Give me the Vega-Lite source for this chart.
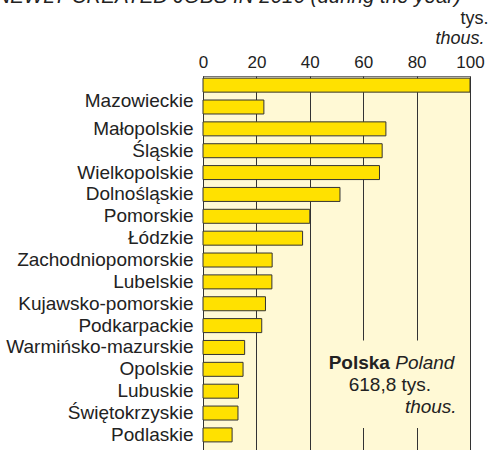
{
  "$schema": "https://vega.github.io/schema/vega-lite/v6.json",
  "width": 267,
  "height": 376,
  "autosize": {"type": "none"},
  "padding": {"left": 203, "top": 76, "right": 21, "bottom": 0},
  "background": "white",
  "title": {
    "text": "NEWLY CREATED JOBS IN 2016 (during the year)",
    "fontStyle": "italic",
    "fontWeight": "normal",
    "fontSize": 20.5,
    "font": "Liberation Sans",
    "color": "#222222",
    "anchor": "end",
    "frame": "group",
    "dx": -9,
    "baseline": "alphabetic",
    "offset": -14
  },
  "config": {
    "font": "Liberation Sans",
    "view": {"fill": "#FFF9D5", "stroke": "#777777"}
  },
  "datasets": {
    "regions": [
      {"region": "Mazowieckie A", "value": 100.7},
      {"region": "Mazowieckie B", "value": 22.8},
      {"region": "Małopolskie", "value": 68.5},
      {"region": "Śląskie", "value": 67.1},
      {"region": "Wielkopolskie", "value": 66.1},
      {"region": "Dolnośląskie", "value": 51.3},
      {"region": "Pomorskie", "value": 40.0},
      {"region": "Łódzkie", "value": 37.3},
      {"region": "Zachodniopomorskie", "value": 25.9},
      {"region": "Lubelskie", "value": 25.8},
      {"region": "Kujawsko-pomorskie", "value": 23.4},
      {"region": "Podkarpackie", "value": 22.0},
      {"region": "Warmińsko-mazurskie", "value": 15.6},
      {"region": "Opolskie", "value": 15.0},
      {"region": "Lubuskie", "value": 13.3},
      {"region": "Świętokrzyskie", "value": 13.1},
      {"region": "Podlaskie", "value": 10.9}
    ]
  },
  "layer": [
    {
      "data": {"name": "regions"},
      "mark": {"type": "bar", "fill": "#FFE100", "stroke": "#333333", "strokeWidth": 1},
      "encoding": {
        "x": {
          "field": "value",
          "type": "quantitative",
          "scale": {"domain": [0, 100], "clamp": true, "nice": false},
          "axis": {
            "orient": "top",
            "values": [0, 20, 40, 60, 80, 100],
            "labelFontSize": 17,
            "labelColor": "#222222",
            "labelFlush": false,
            "labelOverlap": false,
            "labelPadding": 5,
            "ticks": false,
            "domain": false,
            "grid": true,
            "gridColor": "#333333",
            "gridOpacity": 1,
            "gridWidth": 1,
            "title": "thous.",
            "titleFontStyle": "italic",
            "titleFontWeight": "normal",
            "titleFontSize": 18,
            "titleColor": "#222222",
            "titleX": 281,
            "titleY": -38,
            "titleAlign": "right",
            "titleBaseline": "middle"
          }
        },
        "y": {
          "field": "region",
          "type": "nominal",
          "sort": null,
          "scale": {"paddingInner": 0.36, "paddingOuter": 0.28, "align": 0.175},
          "axis": {
            "labelExpr": "datum.value === 'Mazowieckie A' ? '' : (datum.value === 'Mazowieckie B' ? 'Mazowieckie' : datum.value)",
            "labelOffset": {"condition": {"test": "datum.value === 'Mazowieckie B'", "value": -6}, "value": 0},
            "labelFontSize": 19,
            "labelColor": "#222222",
            "labelPadding": 10,
            "labelLimit": 300,
            "ticks": false,
            "domain": true,
            "domainColor": "#333333",
            "grid": false,
            "title": "tys.",
            "titleAngle": 0,
            "titleFontWeight": "normal",
            "titleFontSize": 18,
            "titleColor": "#222222",
            "titleX": 285,
            "titleY": -58,
            "titleAlign": "right",
            "titleBaseline": "middle"
          }
        }
      }
    },
    {
      "data": {"values": [{}]},
      "mark": {"type": "rect", "fill": "#FFF9D5"},
      "encoding": {
        "x": {"datum": 41},
        "x2": {"datum": 99.6},
        "y": {"datum": "Warmińsko-mazurskie", "bandPosition": 0},
        "y2": {"datum": "Podlaskie", "bandPosition": 0}
      }
    },
    {
      "data": {"values": [{"t": "Polska"}]},
      "mark": {"type": "text", "align": "right", "baseline": "alphabetic", "fontSize": 19, "fontWeight": "bold", "color": "#222222"},
      "encoding": {
        "x": {"datum": 70},
        "y": {"datum": "Opolskie"},
        "text": {"field": "t"}
      }
    },
    {
      "data": {"values": [{"t": "Poland"}]},
      "mark": {"type": "text", "align": "left", "baseline": "alphabetic", "fontSize": 19, "fontStyle": "italic", "color": "#222222"},
      "encoding": {
        "x": {"datum": 72},
        "y": {"datum": "Opolskie"},
        "text": {"field": "t"}
      }
    },
    {
      "data": {"values": [{"t": "618,8 tys."}]},
      "mark": {"type": "text", "align": "center", "baseline": "alphabetic", "fontSize": 19, "color": "#222222"},
      "encoding": {
        "x": {"datum": 70},
        "y": {"datum": "Lubuskie"},
        "text": {"field": "t"}
      }
    },
    {
      "data": {"values": [{"t": "thous."}]},
      "mark": {"type": "text", "align": "right", "baseline": "alphabetic", "fontSize": 19, "fontStyle": "italic", "color": "#222222"},
      "encoding": {
        "x": {"datum": 95},
        "y": {"datum": "Świętokrzyskie"},
        "text": {"field": "t"}
      }
    }
  ]
}
